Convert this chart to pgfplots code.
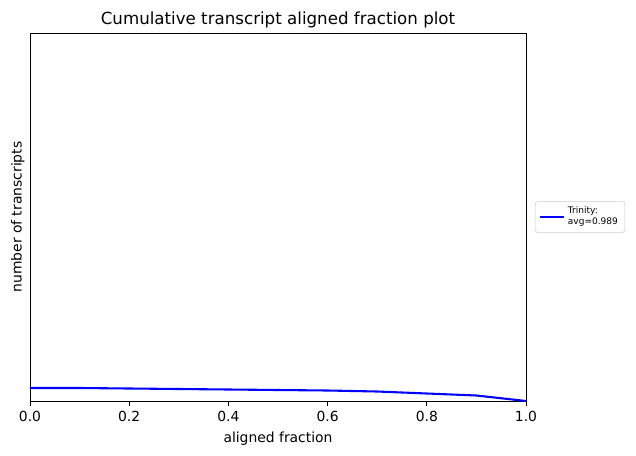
\documentclass[border=0pt]{standalone}
\usepackage{fontspec}
\setmainfont{DejaVu Sans}
\usepackage{pgfplots}
\pgfplotsset{compat=1.18}

\begin{document}
\begin{tikzpicture}
% page frame, 636 x 455 px at 100 dpi (1 px = 0.72 pt)
\path (0,0) rectangle (457.92pt,327.6pt);
\begin{axis}[
    at={(21.6pt,38.88pt)}, anchor=south west,
    scale only axis,
    width=357.12pt, height=264.96pt,
    xmin=0, xmax=1,
    ymin=0, ymax=368,
    xtick={0,0.2,0.4,0.6,0.8,1.0},
    xticklabel style={/pgf/number format/.cd, fixed, fixed zerofill, precision=1},
    /pgf/number format/assume math mode=true,
    ytick=\empty,
    tick align=outside,
    tick pos=left,
    major tick length=3.5pt,
    axis line style={line width=0.6pt},
    every tick/.style={black, line width=0.6pt},
    ticklabel style={font=\fontsize{10}{12}\selectfont},
    title={Cumulative transcript aligned fraction plot},
    title style={font=\fontsize{12}{14}\selectfont, yshift=-6pt},
    xlabel={aligned fraction},
    ylabel={number of transcripts},
    label style={font=\fontsize{10}{12}\selectfont},
    xlabel style={yshift=-0.5pt},
    ylabel style={yshift=-3pt},
    legend style={at={(1.018,0.5)}, anchor=west,
        font=\fontsize{6.5}{7.8}\selectfont,
        draw=black!20, rounded corners=2pt,
        inner ysep=2pt,
        cells={align=left}},
    legend cell align=left,
]
\addplot[blue, line width=1.5pt] coordinates {
    (0.0,13)
    (0.1,13)
    (0.2,12.5)
    (0.3,12)
    (0.4,11.5)
    (0.5,11)
    (0.6,10.5)
    (0.7,9.5)
    (0.8,7.5)
    (0.9,5.5)
    (1.0,0)
};
\addlegendentry{Trinity:\\avg=0.989}
\end{axis}
\end{tikzpicture}
\end{document}
